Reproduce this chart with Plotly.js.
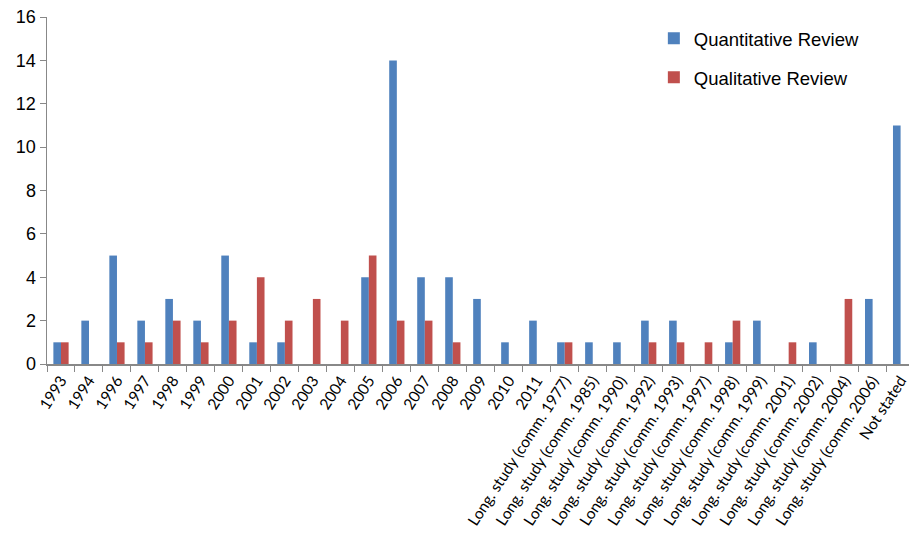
<!DOCTYPE html>
<html>
<head>
<meta charset="utf-8">
<script src="https://cdn.plot.ly/plotly-3.0.1.min.js"></script>
<style>html,body{margin:0;padding:0;background:#fff;}#chart{width:909px;height:543px;}</style>
</head>
<body>
<div id="chart"></div>
<script>
const categories = ["1993","1994","1996","1997","1998","1999","2000","2001","2002","2003","2004","2005","2006","2007","2008","2009","2010","2011",
  "Long. study (comm. 1977)","Long. study (comm. 1985)","Long. study (comm. 1990)","Long. study (comm. 1992)","Long. study (comm. 1993)",
  "Long. study (comm. 1997)","Long. study (comm. 1998)","Long. study (comm. 1999)","Long. study (comm. 2001)","Long. study (comm. 2002)",
  "Long. study (comm. 2004)","Long. study (comm. 2006)","Not stated"];
const quantitative = [1,2,5,2,3,2,5,1,1,0,0,4,14,4,4,3,1,2,1,1,1,2,2,0,1,2,0,1,0,3,11];
const qualitative  = [1,0,1,1,2,1,2,4,2,3,2,5,2,2,1,0,0,0,1,0,0,1,1,1,2,0,1,0,3,0,0];
const yTicks = [0,2,4,6,8,10,12,14,16];

const traces = [
  {type:"bar", name:"Quantitative Review", x:categories, y:quantitative, marker:{color:"#4F81BD"}, legendgroup:"a"},
  {type:"bar", name:"Qualitative Review", x:categories, y:qualitative, marker:{color:"#C0504D"}, legendgroup:"b"}
];
const layout = {
  width:909, height:543,
  margin:{l:47, r:0, t:17, b:179},
  paper_bgcolor:"#fff", plot_bgcolor:"#fff",
  barmode:"group", bargap:0.455, bargroupgap:0,
  showlegend:true,
  legend:{x:0.704, y:0.992, xanchor:"left", yanchor:"top", itemwidth:30, font:{family:"Liberation Sans, Arial, sans-serif", size:18.5, color:"#000"}, tracegroupgap:12, bgcolor:"rgba(0,0,0,0)"},
  xaxis:{type:"category", range:[-0.5, 30.3], tickson:"boundaries", ticks:"outside", ticklen:6, tickcolor:"#888", showline:true, linecolor:"#888", linewidth:1.5,
    tickangle:-57, tickfont:{family:"Lato, Open Sans, sans-serif", size:15.5, color:"#000"}, showgrid:false, zeroline:false, automargin:false},
  yaxis:{range:[0,16], tickvals:yTicks, ticks:"outside", ticklen:6, tickcolor:"#888", showline:true, linecolor:"#888", linewidth:1.5,
    tickfont:{family:"Liberation Sans, Arial, sans-serif", size:18, color:"#000"}, showgrid:false, zeroline:false, automargin:false}
};
Plotly.newPlot("chart", traces, layout, {displayModeBar:false, staticPlot:true});
</script>
</body>
</html>
